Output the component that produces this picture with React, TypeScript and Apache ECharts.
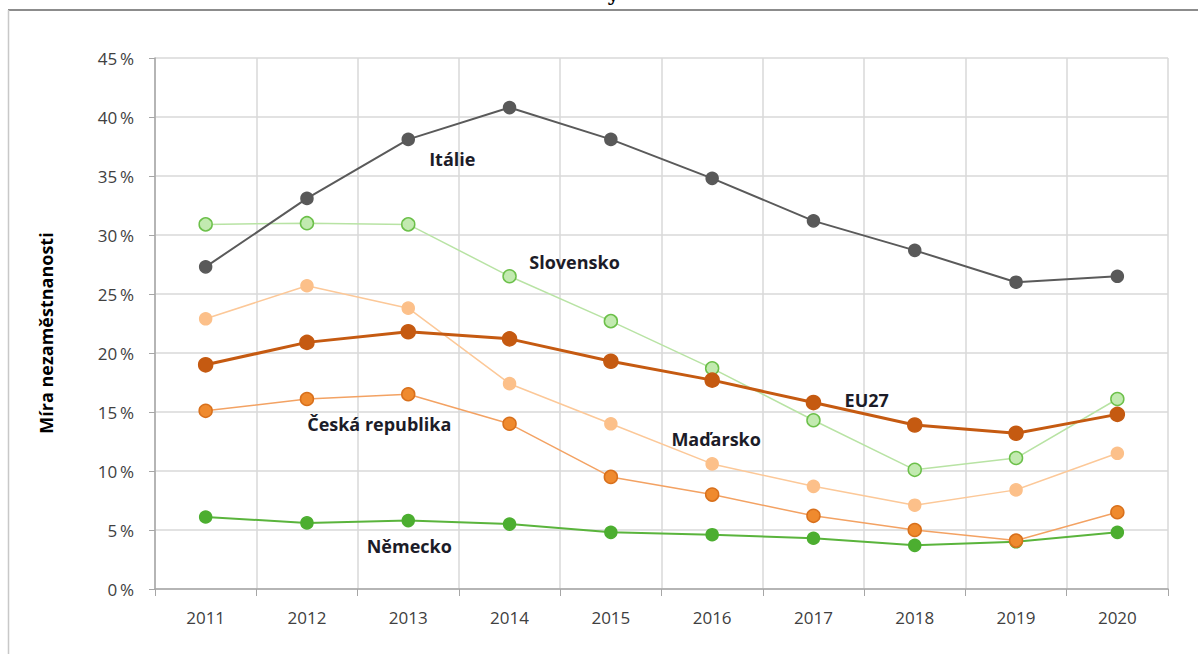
import React, { useEffect, useRef } from "react";
import * as echarts from "echarts";

const years = ["2011", "2012", "2013", "2014", "2015", "2016", "2017", "2018", "2019", "2020"];
const italie = [27.3, 33.1, 38.1, 40.8, 38.1, 34.8, 31.2, 28.7, 26.0, 26.5];
const slovensko = [30.9, 31.0, 30.9, 26.5, 22.7, 18.7, 14.3, 10.1, 11.1, 16.1];
const madarsko = [22.9, 25.7, 23.8, 17.4, 14.0, 10.6, 8.7, 7.1, 8.4, 11.5];
const eu27 = [19.0, 20.9, 21.8, 21.2, 19.3, 17.7, 15.8, 13.9, 13.2, 14.8];
const cesko = [15.1, 16.1, 16.5, 14.0, 9.5, 8.0, 6.2, 5.0, 4.1, 6.5];
const nemecko = [6.1, 5.6, 5.8, 5.5, 4.8, 4.6, 4.3, 3.7, 4.0, 4.8];
const yTicks = { min: 0, max: 45, interval: 5 };

const labelFont = "'Open Sans', 'Noto Sans', sans-serif";

function withLabel(values: number[], idx: number, text: string, offset: number[]) {
  return values.map((v, i) =>
    i === idx
      ? {
          value: v,
          label: {
            show: true,
            formatter: text,
            position: "inside",
            offset,
            align: "center",
            verticalAlign: "middle",
            color: "#1c1c28",
            fontWeight: "bold",
            fontSize: 18,
            fontFamily: labelFont,
          },
        }
      : v
  );
}

export default function App() {
  const ref = useRef<HTMLDivElement>(null);
  useEffect(() => {
    if (!ref.current) return;
    const chart = echarts.init(ref.current, null, { renderer: "svg" });
    const mk = (
      name: string,
      data: any[],
      lineColor: string,
      lineWidth: number,
      fill: string,
      border: string,
      size: number,
      z: number
    ) => ({
      name,
      type: "line",
      data,
      z,
      symbol: "circle",
      symbolSize: size,
      lineStyle: { color: lineColor, width: lineWidth },
      itemStyle: { color: fill, borderColor: border, borderWidth: 1.5 },
      emphasis: { disabled: true },
    });
    chart.setOption({
      animation: false,
      grid: { left: 155, right: 30, top: 58, bottom: 65 },
      xAxis: {
        type: "category",
        data: years,
        boundaryGap: true,
        axisLine: { lineStyle: { color: "#a6a6a6", width: 1.5 } },
        axisTick: { show: true, length: 7, lineStyle: { color: "#a6a6a6" } },
        axisLabel: { color: "#404040", fontSize: 17, fontFamily: labelFont, margin: 20 },
        splitLine: { show: true, lineStyle: { color: "#d9d9d9", width: 1.5 } },
      },
      yAxis: {
        type: "value",
        min: yTicks.min,
        max: yTicks.max,
        interval: yTicks.interval,
        axisLine: { show: true, lineStyle: { color: "#a6a6a6", width: 1.5 } },
        axisTick: { show: true, length: 6, lineStyle: { color: "#a6a6a6" } },
        axisLabel: {
          color: "#404040",
          fontSize: 17,
          fontFamily: labelFont,
          margin: 21,
          formatter: "{value}\u2009%",
        },
        splitLine: { show: true, lineStyle: { color: "#d9d9d9", width: 1.5 } },
      },
      graphic: [
        { type: "line", shape: { x1: 8, y1: 10, x2: 1198, y2: 10 }, style: { stroke: "#8c8c8c", lineWidth: 2 } },
        { type: "line", shape: { x1: 8.5, y1: 10, x2: 8.5, y2: 654 }, style: { stroke: "#c8c8c8", lineWidth: 1.5 } },
        {
          type: "text",
          x: 613,
          y: 4,
          style: { text: "y", font: "bold 20px 'DejaVu Serif', serif", fill: "#000", textAlign: "center", textVerticalAlign: "bottom" },
        },
        {
          type: "text",
          x: 46,
          y: 333,
          rotation: Math.PI / 2,
          style: {
            text: "Míra nezaměstnanosti",
            font: `bold 18px ${labelFont}`,
            fill: "#000",
            textAlign: "center",
            textVerticalAlign: "middle",
          },
        },
      ],
      series: [
        mk("Německo", withLabel(nemecko, 2, "Německo", [1, 25]), "#5ab43c", 2, "#4cae30", "#4cae30", 12, 3),
        mk("Česká republika", withLabel(cesko, 2, "Česká republika", [-29, 30]), "#f3a263", 1.5, "#ef8a2e", "#d8701c", 13, 4),
        mk("Maďarsko", withLabel(madarsko, 5, "Maďarsko", [4, -25]), "#fcc898", 1.5, "#fcc08a", "#fcc08a", 12, 2),
        mk("Slovensko", withLabel(slovensko, 3, "Slovensko", [65, -14]), "#b8e3a4", 1.5, "#c2eab0", "#6cc04a", 13, 2),
        mk("Itálie", withLabel(italie, 2, "Itálie", [44, 20]), "#5a5a5a", 2, "#595959", "#595959", 12, 3),
        mk("EU27", withLabel(eu27, 7, "EU27", [-48, -25]), "#c55a11", 3, "#c55a11", "#c55a11", 14, 5),
      ],
    });
    return () => chart.dispose();
  }, []);
  return (
    <div
      ref={ref}
      style={{ position: "absolute", left: 0, top: 0, width: 1198, height: 654, background: "#fff" }}
    />
  );
}
